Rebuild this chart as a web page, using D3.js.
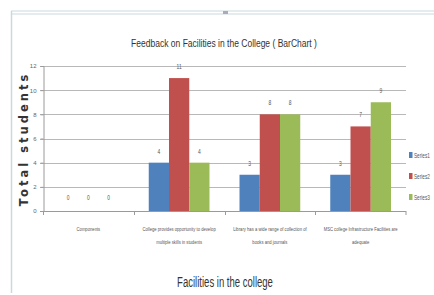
<!DOCTYPE html>
<html>
<head>
<meta charset="utf-8">
<script src="https://cdn.jsdelivr.net/npm/d3@7"></script>
<style>
  body { margin: 0; background: #fff; }
  svg text { font-family: "Liberation Sans", Arial, sans-serif; }
</style>
</head>
<body>
<script>
const categories = [
  ["Components"],
  ["College provides opportunity to develop", "multiple skills in students"],
  ["Library has a wide range of collection of", "books and journals"],
  ["MSC college Infrastructure Facilities are", "adequate"]
];
const seriesNames = ["Series1", "Series2", "Series3"];
const series1 = [0, 4, 3, 3];
const series2 = [0, 11, 8, 7];
const series3 = [0, 4, 8, 9];
const yTicks = [0, 2, 4, 6, 8, 10, 12];

const COLORS = ["#4f81bd", "#c0504d", "#9bbb59"];
const FRAME = "#c9dadd";

const width = 434, height = 295;
const margin = { top: 66, right: 28, bottom: 84, left: 43 };

// place a text at (x, y) squeezed horizontally, to mimic a narrow font
function squeeze(sel, x, y, f) {
  sel.attr("x", 0).attr("y", 0)
    .attr("transform", (d, i) =>
      `translate(${typeof x === "function" ? x(d, i) : x},${typeof y === "function" ? y(d, i) : y}) scale(${f},1)`);
}

const svg = d3.select("body").append("svg")
  .attr("width", width)
  .attr("height", height);

// window frame
svg.append("line").attr("x1", 11).attr("x2", width).attr("y1", 11).attr("y2", 11)
  .attr("stroke", FRAME).attr("stroke-width", 1);
svg.append("line").attr("x1", 11).attr("x2", width).attr("y1", 14).attr("y2", 14)
  .attr("stroke", FRAME).attr("stroke-width", 1);
svg.append("line").attr("x1", 11.5).attr("x2", 11.5).attr("y1", 11).attr("y2", 293)
  .attr("stroke", FRAME).attr("stroke-width", 1.5);
svg.append("rect").attr("x", 223).attr("y", 11).attr("width", 5).attr("height", 3).attr("fill", "#aab");

const keys = seriesNames.map((s, i) => i);
const data = categories.map((c, i) => ({
  label: c,
  values: [series1[i], series2[i], series3[i]]
}));

const x0 = d3.scaleBand()
  .domain(d3.range(categories.length))
  .range([margin.left, width - margin.right]);

const x1 = d3.scaleBand()
  .domain(keys)
  .range([15, x0.bandwidth() - 15]);

const y = d3.scaleLinear()
  .domain([0, 12])
  .range([height - margin.bottom, margin.top]);

// gridlines
svg.append("g")
  .selectAll("line")
  .data(yTicks)
  .join("line")
  .attr("x1", margin.left - 3)
  .attr("x2", width - margin.right)
  .attr("y1", d => Math.round(y(d)) + 0.5)
  .attr("y2", d => Math.round(y(d)) + 0.5)
  .attr("stroke", d => d === 0 ? "#9a9a9a" : "#b8b8b8")
  .attr("stroke-width", 1);

// y axis
const yAxis = svg.append("g")
  .attr("transform", `translate(${margin.left + 0.5},0)`)
  .call(d3.axisLeft(y).tickValues(yTicks).tickSize(3).tickPadding(4));
yAxis.select(".domain").attr("stroke", "#9a9a9a");
yAxis.selectAll(".tick line").attr("stroke", "#9a9a9a");
yAxis.selectAll(".tick text")
  .attr("font-size", 6)
  .attr("fill", "#666")
  .style("font-family", "'Liberation Sans', sans-serif");

// x category ticks
svg.append("g")
  .selectAll("line")
  .data(d3.range(categories.length + 1))
  .join("line")
  .attr("x1", i => i < categories.length ? Math.round(x0(i)) + 0.5 : width - margin.right)
  .attr("x2", i => i < categories.length ? Math.round(x0(i)) + 0.5 : width - margin.right)
  .attr("y1", y(0))
  .attr("y2", y(0) + 4)
  .attr("stroke", "#9a9a9a");

// bars
const groups = svg.append("g")
  .selectAll("g")
  .data(data)
  .join("g")
  .attr("transform", (d, i) => `translate(${x0(i)},0)`);

groups.selectAll("rect")
  .data(d => d.values.map((v, k) => ({ k, v })))
  .join("rect")
  .attr("x", d => x1(d.k))
  .attr("y", d => y(d.v))
  .attr("width", x1.bandwidth())
  .attr("height", d => y(0) - y(d.v))
  .attr("fill", d => COLORS[d.k]);

groups.selectAll("text.val")
  .data(d => d.values.map((v, k) => ({ k, v })))
  .join("text")
  .attr("class", "val")
  .attr("text-anchor", "middle")
  .attr("font-size", 7)
  .attr("fill", "#555")
  .text(d => d.v)
  .call(squeeze, d => x1(d.k) + x1.bandwidth() / 2, d => y(d.v) - (d.v === 0 ? 11 : 9), 0.7);

// category labels, one text per line
groups.selectAll("text.cat")
  .data(d => d.label)
  .join("text")
  .attr("class", "cat")
  .attr("text-anchor", "middle")
  .attr("font-size", 5.8)
  .attr("fill", "#555")
  .text(d => d)
  .call(squeeze, x0.bandwidth() / 2, (d, i) => 231 + i * 12.5, 0.72);

// titles
svg.append("text")
  .attr("text-anchor", "middle")
  .attr("font-size", 11.5)
  .attr("fill", "#333")
  .text("Feedback on Facilities in the College ( BarChart )")
  .call(squeeze, 224, 47, 0.74);

svg.append("text")
  .attr("text-anchor", "middle")
  .attr("font-size", 14)
  .attr("fill", "#333")
  .text("Facilities in the college")
  .call(squeeze, 225, 287, 0.68);

svg.append("text")
  .attr("transform", "translate(28,139) rotate(-90)")
  .attr("text-anchor", "middle")
  .attr("font-size", 11.5)
  .attr("font-weight", "bold")
  .attr("fill", "#333")
  .style("font-family", "'DejaVu Sans', sans-serif")
  .attr("letter-spacing", 3)
  .text("Total students");

// legend
const legend = svg.append("g")
  .selectAll("g")
  .data(seriesNames)
  .join("g")
  .attr("transform", (d, i) => `translate(409,${155 + i * 21})`);
legend.append("rect")
  .attr("x", 0).attr("y", -3)
  .attr("width", 3.5).attr("height", 6)
  .attr("fill", (d, i) => COLORS[i]);
legend.append("text")
  .attr("font-size", 6.5)
  .attr("fill", "#555")
  .text(d => d)
  .call(squeeze, 5, 2.5, 0.72);
</script>
</body>
</html>
